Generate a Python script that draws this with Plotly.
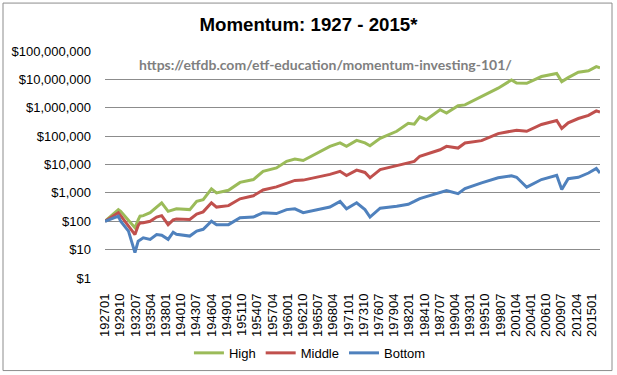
import plotly.graph_objects as go

# ---- data ----
dates = ["1927-01", "1929-06", "1929-11", "1931-04", "1932-06", "1933-01", "1933-05", "1933-12",
         "1935-03", "1936-05", "1937-04", "1938-06", "1939-05", "1939-12", "1942-05", "1943-08",
         "1944-10", "1946-04", "1947-03", "1949-05", "1951-06", "1953-11", "1955-08", "1958-01",
         "1959-11", "1961-05", "1962-11", "1965-11", "1967-09", "1969-07", "1970-09", "1972-07",
         "1974-01", "1974-12", "1976-10", "1979-10", "1981-11", "1982-12", "1983-12", "1985-02",
         "1987-08", "1988-10", "1990-11", "1992-02", "1995-02", "1998-02", "2000-07", "2001-06",
         "2003-04", "2005-12", "2008-09", "2009-08", "2010-10", "2012-08", "2014-06", "2015-11",
         "2016-07"]

high = [100, 257, 224, 112, 59, 112, 151, 158,
        200, 316, 447, 224, 263, 275, 257, 501,
        575, 1380, 1000, 1230, 2340, 2950, 5750, 7590,
        12900, 15500, 13800, 28800, 43700, 57500, 43700, 70800,
        57500, 45700, 83200, 148000, 282000, 263000, 479000, 380000,
        851000, 646000, 1175000, 1259000, 2455000, 4898000, 9550000, 7413000,
        7244000, 12590000, 16220000, 8318000, 11480000, 17780000, 19950000, 28180000,
        25700000]

middle = [100, 200, 158, 71, 34, 71, 87, 89,
          100, 141, 158, 76, 112, 120, 115, 178,
          214, 447, 316, 355, 617, 794, 1260, 1620,
          2240, 2750, 2820, 3800, 4470, 5750, 4070, 6310,
          5250, 3390, 6610, 9120, 11200, 12900, 19500, 22900,
          33100, 43700, 38000, 57500, 69200, 123000, 155000, 162000,
          148000, 257000, 355000, 186000, 295000, 417000, 537000, 776000,
          708000]

bottom = [100, 151, 100, 45, 7.8, 20, 22, 26,
          23, 34, 32, 23, 41, 35, 30, 45,
          52, 100, 76, 76, 132, 141, 200, 186,
          257, 275, 200, 275, 316, 501, 275, 447,
          257, 141, 288, 339, 398, 501, 631, 741,
          1047, 1202, 933, 1413, 2240, 3390, 3980, 3550,
          1585, 2950, 4170, 1318, 3160, 3550, 5010, 7240,
          5010]

series_names = ["High", "Middle", "Bottom"]
series_colors = ["#9BBB59", "#C0504D", "#4F81BD"]

tick_labels = ["192701", "192910", "193207", "193504", "193801", "194010", "194307", "194604",
               "194901", "195110", "195407", "195704", "196001", "196210", "196507", "196804",
               "197101", "197310", "197607", "197904", "198201", "198410", "198707", "199004",
               "199301", "199510", "199807", "200104", "200401", "200610", "200907", "201204",
               "201501"]

y_tick_vals = [1, 10, 100, 1000, 10000, 100000, 1000000, 10000000, 100000000]
y_tick_text = ["$1", "$10", "$100", "$1,000", "$10,000", "$100,000", "$1,000,000",
               "$10,000,000", "$100,000,000"]

# ---- figure ----
fig = go.Figure()
for name, vals, col in zip(series_names, [high, middle, bottom], series_colors):
    fig.add_trace(go.Scatter(x=dates, y=vals, name=name, mode="lines",
                             line=dict(color=col, width=3)))

tick_dates = [t[:4] + "-" + t[4:] + "-01" for t in tick_labels]

font_main = "Liberation Sans, Arial, sans-serif"
fig.update_layout(
    width=617, height=375,
    margin=dict(l=105, r=17, t=51, b=97, autoexpand=False),
    paper_bgcolor="white", plot_bgcolor="white",
    hovermode=False,
    font=dict(family=font_main, size=13, color="black"),
    title=dict(text="<b>Momentum: 1927 - 2015*</b>", x=0.5, xanchor="center",
               xref="container", y=0.936, yanchor="middle", yref="container",
               font=dict(size=18.7, color="black", family=font_main)),
    showlegend=True,
    legend=dict(orientation="h", x=0.414, xanchor="center", y=-0.33, yanchor="middle",
                font=dict(size=13), itemwidth=30, traceorder="normal"),
    xaxis=dict(type="date", range=["1927-01-01", "2016-07-01"], automargin=False,
               tickmode="array", tickvals=tick_dates, ticktext=tick_labels,
               tickangle=-90, showgrid=False, zeroline=False, showline=False,
               ticks="", ticklabelstandoff=12, tickfont=dict(size=13)),
    yaxis=dict(type="log", range=[0, 8], automargin=False, tickmode="array",
               tickvals=y_tick_vals, ticktext=y_tick_text, showgrid=True,
               gridcolor="#8C8C8C", gridwidth=1, zeroline=False, showline=False,
               ticks="", ticklabelstandoff=13, tickfont=dict(size=13)),
    annotations=[dict(text="<b>https://etfdb.com/etf-education/momentum-investing-101/</b>",
                      xref="paper", yref="paper", x=0.445, y=0.94, xanchor="center",
                      yanchor="middle", showarrow=False,
                      font=dict(family="Lato, Open Sans, sans-serif", size=14, color="#7F7F7F"))],
    shapes=[dict(type="rect", xref="paper", yref="paper",
                 x0=(3 - 105) / 495, x1=(612 - 105) / 495,
                 y0=-(371 - 278.3) / 227.3, y1=1 + (51 - 3) / 227.3,
                 line=dict(color="#8C8C8C", width=1), fillcolor="rgba(0,0,0,0)", layer="below")],
)

fig.write_html("out.html", config={"displayModeBar": False},
               post_script="document.body.style.margin='0';document.body.style.overflow='hidden';")
